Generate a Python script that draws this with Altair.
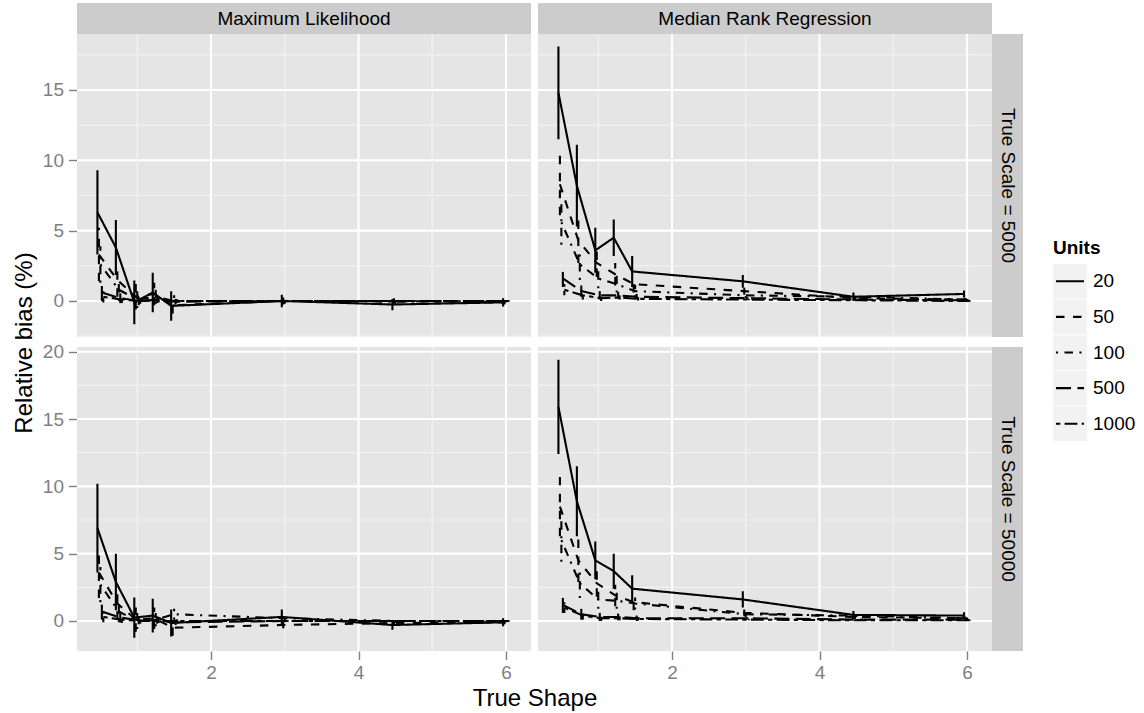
import altair as alt
import pandas as pd

FONT = "Liberation Sans"

# True shape values and sample sizes
shapes = [0.5, 0.75, 1.0, 1.25, 1.5, 3.0, 4.5, 6.0]
units = ["20", "50", "100", "500", "1000"]
dodge = [-0.04, -0.02, 0.0, 0.02, 0.04]

# Mean relative bias (%) and half-width of the error bars, per method / true scale
ml_5000_mean = {
    "20":   [6.3, 3.8, -0.1, 0.6, -0.35, 0.0, -0.25, -0.1],
    "50":   [3.3, 1.5, 0.3, 0.5, -0.3, 0.0, 0.0, -0.1],
    "100":  [2.6, 0.8, 0.1, 0.3, 0.0, 0.0, -0.05, 0.0],
    "500":  [0.6, 0.2, 0.0, 0.1, -0.05, 0.0, 0.0, 0.0],
    "1000": [0.3, 0.1, 0.0, 0.05, 0.0, 0.0, 0.0, 0.0],
}
ml_5000_half = {
    "20":   [3.0, 1.95, 1.55, 1.4, 1.05, 0.45, 0.4, 0.3],
    "50":   [1.9, 1.2, 0.9, 0.8, 0.6, 0.25, 0.2, 0.15],
    "100":  [1.3, 0.8, 0.6, 0.5, 0.4, 0.2, 0.15, 0.1],
    "500":  [0.6, 0.35, 0.3, 0.25, 0.2, 0.08, 0.06, 0.05],
    "1000": [0.4, 0.25, 0.2, 0.15, 0.12, 0.06, 0.04, 0.03],
}
mrr_5000_mean = {
    "20":   [14.8, 8.2, 3.6, 4.5, 2.1, 1.4, 0.3, 0.5],
    "50":   [8.3, 4.3, 2.7, 1.9, 1.2, 0.7, 0.2, 0.1],
    "100":  [5.6, 2.6, 1.6, 1.2, 0.7, 0.4, 0.3, 0.1],
    "500":  [1.6, 0.7, 0.4, 0.4, 0.3, 0.2, 0.1, 0.05],
    "1000": [0.8, 0.4, 0.2, 0.25, 0.15, 0.1, 0.05, 0.0],
}
mrr_5000_half = {
    "20":   [3.3, 2.9, 1.6, 1.3, 1.1, 0.45, 0.3, 0.25],
    "50":   [2.2, 1.6, 1.0, 0.8, 0.6, 0.25, 0.15, 0.12],
    "100":  [1.6, 1.1, 0.7, 0.6, 0.45, 0.2, 0.12, 0.1],
    "500":  [0.6, 0.4, 0.3, 0.25, 0.2, 0.08, 0.05, 0.04],
    "1000": [0.4, 0.3, 0.2, 0.15, 0.12, 0.05, 0.04, 0.03],
}
ml_50000_mean = {
    "20":   [6.9, 2.9, 0.25, 0.4, -0.15, 0.3, -0.3, -0.1],
    "50":   [3.6, 1.3, 0.1, 0.2, -0.5, -0.3, -0.15, -0.1],
    "100":  [2.7, 0.7, 0.0, 0.1, 0.5, 0.2, 0.0, 0.0],
    "500":  [0.7, 0.25, 0.05, 0.05, -0.1, 0.0, 0.0, 0.0],
    "1000": [0.3, 0.1, 0.0, 0.0, 0.0, 0.0, 0.0, 0.0],
}
ml_50000_half = {
    "20":   [3.3, 2.1, 1.5, 1.25, 1.0, 0.55, 0.35, 0.3],
    "50":   [1.9, 1.2, 0.9, 0.8, 0.6, 0.25, 0.2, 0.15],
    "100":  [1.3, 0.8, 0.6, 0.5, 0.4, 0.2, 0.15, 0.1],
    "500":  [0.6, 0.35, 0.3, 0.25, 0.2, 0.08, 0.06, 0.05],
    "1000": [0.4, 0.25, 0.2, 0.15, 0.12, 0.06, 0.04, 0.03],
}
mrr_50000_mean = {
    "20":   [15.9, 8.9, 4.5, 3.7, 2.4, 1.6, 0.45, 0.4],
    "50":   [8.5, 4.5, 2.8, 1.9, 1.4, 0.6, 0.3, 0.2],
    "100":  [6.0, 2.8, 1.6, 1.5, 1.3, 0.5, 0.4, 0.2],
    "500":  [1.2, 0.5, 0.3, 0.3, 0.2, 0.2, 0.1, 0.1],
    "1000": [1.0, 0.4, 0.2, 0.2, 0.15, 0.1, 0.05, 0.05],
}
mrr_50000_half = {
    "20":   [3.5, 2.6, 1.4, 1.3, 1.0, 0.6, 0.3, 0.25],
    "50":   [2.2, 1.6, 1.0, 0.8, 0.6, 0.25, 0.15, 0.12],
    "100":  [1.6, 1.1, 0.7, 0.6, 0.45, 0.2, 0.12, 0.1],
    "500":  [0.6, 0.4, 0.3, 0.25, 0.2, 0.08, 0.05, 0.04],
    "1000": [0.4, 0.3, 0.2, 0.15, 0.12, 0.05, 0.04, 0.03],
}

# Axis breaks and limits
x_major = [2, 4, 6]
x_minor = [1, 3, 5]
x_domain = [0.183, 6.339]
top_domain = [-2.56, 18.98]
top_major = [0, 5, 10, 15]
top_minor = [-2.5, 2.5, 7.5, 12.5, 17.5]
bot_domain = [-2.23, 20.35]
bot_major = [0, 5, 10, 15, 20]
bot_minor = [2.5, 7.5, 12.5, 17.5]

# R line types: solid, dashed, dotdash, longdash, twodash
dash_scale = alt.Scale(
    domain=units,
    range=[[1, 0], [8.5, 8.5], [2.1, 6.4, 8.5, 6.4], [15, 6.4], [4.3, 4.3, 12.8, 4.3]],
)

W = 454          # panel width
H_TOP = 303      # panel height, upper row
H_BOT = 304      # panel height, lower row
STRIP = 31       # strip thickness
GAP = 7          # spacing between panels
EXTRA_Y = 3      # additional vertical gap above the lower row
GREY50 = "#7F7F7F"
LW = 2.1


def frame(mean, half):
    rows = []
    for k, u in enumerate(units):
        for i, s in enumerate(shapes):
            m = mean[u][i]
            h = half[u][i]
            rows.append({"unit": u, "shape": s, "xpos": s + dodge[k],
                         "bias": m, "lo": m - h, "hi": m + h})
    return pd.DataFrame(rows)


def y_axis(values, title=None, title_y=None):
    kw = dict(values=values, grid=False, domain=False, tickColor=GREY50,
              tickSize=8.5, tickWidth=1.4, labelColor=GREY50, labelFontSize=19,
              labelFont=FONT, labelPadding=5, format="d")
    if title is not None:
        kw.update(title=title, titleFont=FONT, titleFontSize=24,
                  titleFontWeight="normal", titleColor="black",
                  titlePadding=6, titleY=title_y)
    else:
        kw.update(title=None)
    return alt.Axis(**kw)


def x_axis(title=None, title_x=None):
    kw = dict(values=x_major, grid=False, domain=False, tickColor=GREY50,
              tickSize=8.5, tickWidth=1.4, labelColor=GREY50, labelFontSize=19,
              labelFont=FONT, labelPadding=4, format="d")
    if title is not None:
        kw.update(title=title, titleFont=FONT, titleFontSize=24,
                  titleFontWeight="normal", titleColor="black",
                  titlePadding=4, titleX=title_x)
    else:
        kw.update(title=None)
    return alt.Axis(**kw)


def panel(mean, half, ydom, ymaj, ymin, height, y_ax, x_ax,
          top_label=None, side_label=None, top_gap=0):
    df = frame(mean, half)
    top = STRIP if top_label else top_gap
    total_h = height + top
    total_w = W + (STRIP if side_label else 0)
    xs = alt.Scale(domain=x_domain, nice=False, zero=False, range=[0, W])
    ys = alt.Scale(domain=ydom, nice=False, zero=False, range=[total_h, top])

    def X(field):
        return alt.X(field, scale=xs, axis=x_ax)

    def Y(field):
        return alt.Y(field, scale=ys, axis=y_ax)

    box = pd.DataFrame({"x0": [x_domain[0]], "x1": [x_domain[1]],
                        "y0": [ydom[0]], "y1": [ydom[1]]})
    bg = alt.Chart(box).mark_rect(color="#E5E5E5").encode(
        x=X("x0:Q"), x2="x1:Q", y=Y("y0:Q"), y2="y1:Q")

    def vrules(vals, color, width):
        d = pd.DataFrame({"v": vals, "lo": ydom[0], "hi": ydom[1]})
        return alt.Chart(d).mark_rule(color=color, strokeWidth=width).encode(
            x=X("v:Q"), y=Y("lo:Q"), y2="hi:Q")

    def hrules(vals, color, width):
        d = pd.DataFrame({"v": vals, "lo": x_domain[0], "hi": x_domain[1]})
        return alt.Chart(d).mark_rule(color=color, strokeWidth=width).encode(
            y=Y("v:Q"), x=X("lo:Q"), x2="hi:Q")

    base = alt.Chart(df)
    bars = base.mark_rule(color="black", strokeWidth=LW).encode(
        x=X("xpos:Q"), y=Y("lo:Q"), y2="hi:Q",
        strokeDash=alt.StrokeDash("unit:N", scale=dash_scale, legend=None),
    )
    lines = base.mark_line(color="black", strokeWidth=LW).encode(
        x=X("xpos:Q"), y=Y("bias:Q"),
        strokeDash=alt.StrokeDash("unit:N", scale=dash_scale, legend=None),
    )
    layers = [bg, vrules(x_minor, "#F2F2F2", 1.2), hrules(ymin, "#F2F2F2", 1.2),
              vrules(x_major, "white", 2.1), hrules(ymaj, "white", 2.1), bars, lines]

    if top_label:
        lab = pd.DataFrame({"label": [top_label]})
        layers.append(alt.Chart(lab).mark_rect(color="#CCCCCC").encode(
            x=alt.value(0), x2=alt.value(W), y=alt.value(0), y2=alt.value(STRIP)))
        layers.append(alt.Chart(lab).mark_text(
            font=FONT, fontSize=19, color="black", baseline="middle", align="center"
        ).encode(text="label:N", x=alt.value(W / 2), y=alt.value(STRIP / 2)))
    if side_label:
        lab = pd.DataFrame({"label": [side_label]})
        layers.append(alt.Chart(lab).mark_rect(color="#CCCCCC").encode(
            x=alt.value(W), x2=alt.value(W + STRIP),
            y=alt.value(top), y2=alt.value(total_h)))
        layers.append(alt.Chart(lab).mark_text(
            font=FONT, fontSize=19, color="black", baseline="middle",
            align="center", angle=90
        ).encode(text="label:N", x=alt.value(W + STRIP / 2),
                 y=alt.value(top + height / 2)))

    return alt.layer(*layers).properties(width=total_w, height=total_h)


title_y = (STRIP + STRIP + H_TOP + GAP + EXTRA_Y + H_BOT) / 2
p11 = panel(ml_5000_mean, ml_5000_half, top_domain, top_major, top_minor, H_TOP,
            y_axis(top_major, "Relative bias (%)", title_y), None,
            top_label="Maximum Likelihood")
p12 = panel(mrr_5000_mean, mrr_5000_half, top_domain, top_major, top_minor, H_TOP,
            None, None, top_label="Median Rank Regression",
            side_label="True Scale = 5000")
p21 = panel(ml_50000_mean, ml_50000_half, bot_domain, bot_major, bot_minor, H_BOT,
            y_axis(bot_major), x_axis("True Shape", (2 * W + GAP) / 2),
            top_gap=EXTRA_Y)
p22 = panel(mrr_50000_mean, mrr_50000_half, bot_domain, bot_major, bot_minor, H_BOT,
            None, x_axis(), side_label="True Scale = 50000", top_gap=EXTRA_Y)

# Legend for sample size (line type keys)
LX = 23
leg_df = pd.DataFrame({"unit": units})
leg_y = alt.Scale(domain=units, range=[261, 438], paddingInner=0.03, paddingOuter=0)
leg_bg = alt.Chart(leg_df).mark_rect(color="#F2F2F2").encode(
    y=alt.Y("unit:N", scale=leg_y, axis=None, sort=units),
    x=alt.value(LX), x2=alt.value(LX + 34))
leg_keys = alt.Chart(leg_df).mark_rule(color="black", strokeWidth=LW).encode(
    y=alt.Y("unit:N", scale=leg_y, axis=None, sort=units, bandPosition=0.5),
    x=alt.value(LX + 3), x2=alt.value(LX + 31),
    strokeDash=alt.StrokeDash("unit:N", scale=dash_scale, legend=None))
leg_text = alt.Chart(leg_df).mark_text(
    font=FONT, fontSize=19, align="left", baseline="middle", color="black").encode(
    y=alt.Y("unit:N", scale=leg_y, axis=None, sort=units, bandPosition=0.5),
    x=alt.value(LX + 40), text="unit:N")
leg_title = alt.Chart(pd.DataFrame({"t": ["Units"]})).mark_text(
    font=FONT, fontSize=19, fontWeight="bold", align="left", baseline="middle",
    color="black").encode(x=alt.value(LX), y=alt.value(245), text="t:N")
legend = alt.layer(leg_bg, leg_keys, leg_text, leg_title).properties(
    width=100, height=STRIP + H_TOP)

chart = alt.concat(
    p11, p12, legend, p21, p22,
    columns=3, bounds="flush", spacing=GAP,
).properties(
    padding={"left": 12, "top": 3, "right": 0, "bottom": 0},
    background="white",
).configure(font=FONT).configure_view(stroke=None)

chart.save("out.html", embed_options={"renderer": "svg", "actions": False})
